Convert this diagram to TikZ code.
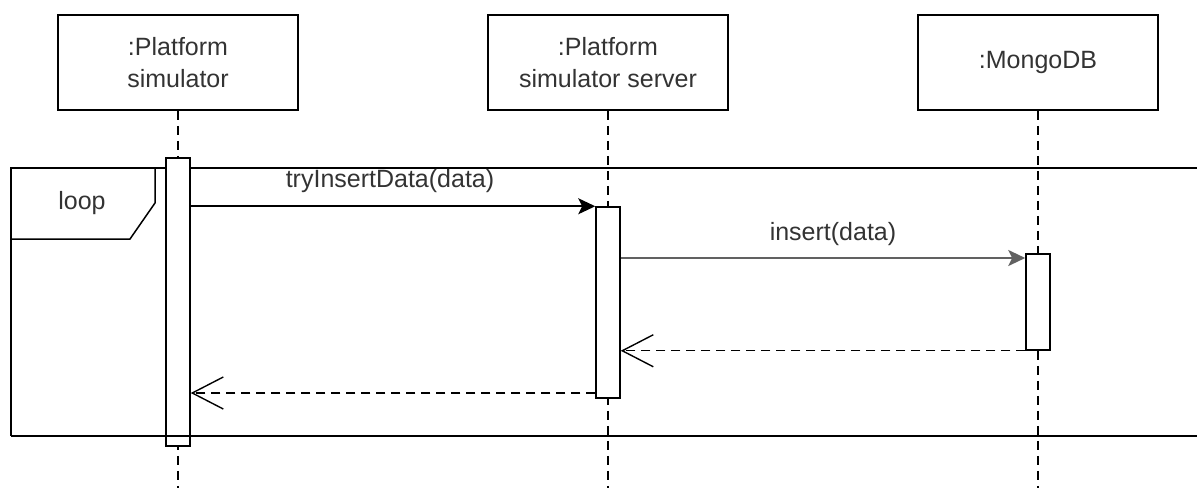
\documentclass[tikz,border=0pt]{standalone}
\usepackage{fontspec}
\setmainfont{Liberation Sans}
\usetikzlibrary{arrows.meta}
\definecolor{txt}{HTML}{333333}
\begin{document}
\begin{tikzpicture}[x=1pt,y=-1pt,
  lbl/.style={font=\fontsize{25}{32}\selectfont, text=txt, inner sep=0pt},
  obj/.style={lbl, draw=black, line width=1.5pt, minimum width=240pt, minimum height=95pt, align=center},
  act/.style={draw, fill=white, line width=1.5pt, minimum width=24pt, inner sep=0pt},
  life/.style={line width=1.5pt, dash pattern=on 9pt off 6pt},
  msg/.style={line width=1.6pt, -{Stealth[length=17pt,width=16pt,inset=4pt]}},
  ret/.style={line width=1.2pt, dash pattern=on 9pt off 6pt, -{Straight Barb[length=31pt,width=32pt,line width=1.4pt]}},
  framel/.style={line width=1.5pt},
]
\useasboundingbox (0,0) rectangle (1197,488);

% participants
\node[obj] (o1) at (178,62.5) {:Platform\\simulator};
\node[obj] (o2) at (608,62.5) {:Platform\\simulator server};
\node[obj] (o3) at (1038,62.5) {:MongoDB};

% lifelines
\coordinate (bot) at (0,488);
\draw[life] (o1.south) -- (o1.south |- bot);
\draw[life] (o2.south) -- (o2.south |- bot);
\draw[life] (o3.south) -- (o3.south |- bot);

% loop combined fragment
\coordinate (fr) at (1197,168);
\draw[framel] (fr) -- (11,168) -- (11,436);
\draw[framel] (11,168) -- (155,168) -- (155,203) -- (130,239) -- (11,239);
\node[lbl] (loop) at (82,203) {loop};

% activation bars
\node[act, minimum height=288pt] (a1) at (178,302) {};
\node[act, minimum height=191pt] (a2) at (608,302.5) {};
\node[act, minimum height=96pt] (a3) at (1038,302) {};

% lower edge of the fragment
\coordinate (fb) at (1197,436);
\draw[framel] (11,436) -- (fb);

% messages
\draw[msg] (a1.east |- a2.north) -- (a2.north west);
\node[lbl] (m1) at (390,181) {tryInsertData(data)};

\coordinate (m2y) at (0,258);
\draw[msg, line width=2.3pt, draw=black!62] (a2.east |- m2y) -- (a3.west |- m2y);
\node[lbl] (m2) at (833,234) {insert(data)};

\draw[ret] (a3.south west) -- (a2.east |- a3.south);

\coordinate (r2y) at (0,393);
\draw[ret] (a2.west |- r2y) -- (a1.east |- r2y);
\end{tikzpicture}
\end{document}
